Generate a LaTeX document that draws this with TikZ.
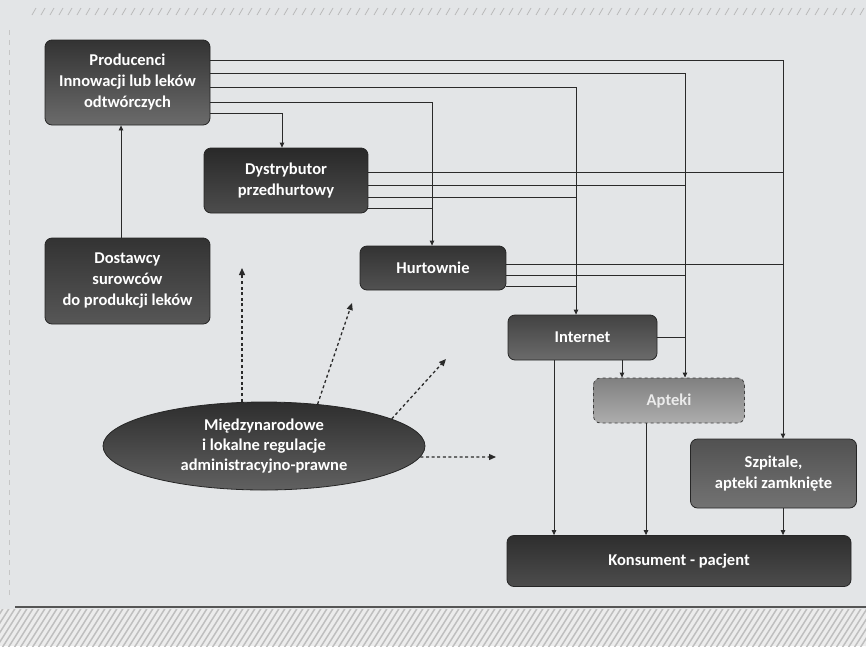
\documentclass[tikz,border=0pt]{standalone}
\usepackage{fontspec}
\setmainfont{Carlito}
\usetikzlibrary{arrows.meta,shapes.geometric,calc}
\definecolor{bg}{HTML}{E3E5E7}
\definecolor{ln}{HTML}{2A2A2A}
\definecolor{edge}{HTML}{262626}
\begin{document}
\begin{tikzpicture}[x=1pt,y=-1pt,
  box/.style={draw=edge, line width=0.8pt, rounded corners=7pt, text=white,
    font=\bfseries\fontsize{16.5}{21}\selectfont, align=center, inner sep=0pt},
  dark/.style n args={2}{box, top color=#1, bottom color=#2},
  conn/.style={draw=ln, line width=0.8pt},
  arr/.style={conn, -{Triangle[length=5pt,width=4.5pt]}},
  darr/.style={draw=ln, line width=1.3pt, dash pattern=on 3pt off 2.6pt,
    -{Triangle[length=7pt,width=6pt]}}
]
\useasboundingbox (0,0) rectangle (866,646);
\fill[bg] (0,0) rectangle (866,646);
% top hatch
\foreach \x in {32,41,...,862} \draw[gray!55, line width=0.8pt] (\x,15) -- (\x+4,8);
% left faint edge
\draw[gray!45, line width=0.6pt, dash pattern=on 5pt off 5pt] (9,30) -- (9,595);
% bottom band
\fill[gray!15] (0,609) rectangle (866,646);
\begin{scope}
  \clip (0,609) rectangle (866,646);
  \foreach \x in {-40,-34,...,900} \draw[gray!50, line width=1.5pt] (\x,648) -- (\x+26,607);
\end{scope}
\draw[ln!80, line width=1.6pt] (15,607) -- (866,607);

% nodes
\node[dark={black!80}{black!58}, minimum width=165pt, minimum height=85pt] (prod) at (127.5,82.5)
  {Producenci\\Innowacji lub leków\\odtwórczych};
\node[dark={black!84}{black!70}, minimum width=164pt, minimum height=65pt] (dyst) at (286,180.5)
  {Dystrybutor\\przedhurtowy};
\node[dark={black!80}{black!66}, minimum width=165pt, minimum height=86pt] (dost) at (127.5,281)
  {Dostawcy\\surowców\\do produkcji leków};
\node[dark={black!80}{black!68}, minimum width=146pt, minimum height=44pt] (hurt) at (433,268)
  {Hurtownie};
\node[dark={black!74}{black!58}, minimum width=149pt, minimum height=45pt] (inter) at (582.5,337.5)
  {Internet};
\node[box, top color=black!50, bottom color=black!32, draw=black!75, dashed,
  text=white!92!black, minimum width=151pt, minimum height=45pt] (apt) at (669,400.5)
  {Apteki};
\node[dark={black!68}{black!55}, minimum width=166pt, minimum height=69pt] (szp) at (773.5,473.5)
  {Szpitale,\\apteki zamknięte};
\node[dark={black!82}{black!70}, minimum width=344pt, minimum height=51pt] (kons) at (679,561)
  {Konsument - pacjent};
\node[ellipse, draw=edge, line width=0.8pt, top color=black!82, bottom color=black!62,
  text=white, font=\bfseries\fontsize{16.5}{20}\selectfont, align=center, inner sep=0pt,
  minimum width=322pt, minimum height=88pt] (ell) at (264,446)
  {Międzynarodowe\\i lokalne regulacje\\administracyjno-prawne};

% level coordinates
\coordinate (yP1) at (0,60);  \coordinate (yP2) at (0,73);
\coordinate (yP3) at (0,87);  \coordinate (yP4) at (0,102);
\coordinate (yP5) at (0,113);
\coordinate (yD1) at (0,172); \coordinate (yD2) at (0,185);
\coordinate (yD3) at (0,197); \coordinate (yD4) at (0,208);
\coordinate (yH1) at (0,264); \coordinate (yH2) at (0,275);
\coordinate (yH3) at (0,286);
\coordinate (xS) at (783,0);  \coordinate (xA) at (685,0);
\coordinate (xI) at (576,0);  \coordinate (xH) at (432,0);
\coordinate (xD) at (282,0);  \coordinate (xIA) at (622,0);
\coordinate (xIK) at (554,0); \coordinate (xAK) at (646,0);
\coordinate (xDP) at (121,0);

% Producenci outputs
\draw[arr] (prod.east |- yP1) -| (xS |- szp.north);
\draw[arr] (prod.east |- yP2) -| (xA |- apt.north);
\draw[arr] (prod.east |- yP3) -| (xI |- inter.north);
\draw[arr] (prod.east |- yP4) -| (xH |- hurt.north);
\draw[arr] (prod.east |- yP5) -| (xD |- dyst.north);
% Dystrybutor outputs
\draw[conn] (dyst.east |- yD1) -- (xS |- yD1);
\draw[conn] (dyst.east |- yD2) -- (xA |- yD2);
\draw[conn] (dyst.east |- yD3) -- (xI |- yD3);
\draw[conn] (dyst.east |- yD4) -- (xH |- yD4);
% Hurtownie outputs
\draw[conn] (hurt.east |- yH1) -- (xS |- yH1);
\draw[conn] (hurt.east |- yH2) -- (xA |- yH2);
\draw[conn] (hurt.east |- yH3) -- (xI |- yH3);
% Internet outputs
\draw[conn] (inter.east) -- (xA |- inter.east);
\draw[arr] (xIA |- inter.south) -- (xIA |- apt.north);
\draw[arr] (xIK |- inter.south) -- (xIK |- kons.north);
% Apteki, Szpitale -> Konsument
\draw[arr] (xAK |- apt.south) -- (xAK |- kons.north);
\draw[arr] (xS |- szp.south) -- (xS |- kons.north);
% Dostawcy -> Producenci
\draw[arr] (xDP |- dost.north) -- (xDP |- prod.south);

% regulation arrows
\coordinate (t1) at (242,268);
\coordinate (t2) at (352,303);
\coordinate (t3) at (446,359);
\coordinate (t4) at (496,457);
\draw[darr] (t1 |- ell.north) -- (t1);
\draw[darr] (ell.38) -- (t2);
\draw[darr] (ell.12) -- (t3);
\draw[darr] (ell.-4) -- (t4);
\end{tikzpicture}
\end{document}
